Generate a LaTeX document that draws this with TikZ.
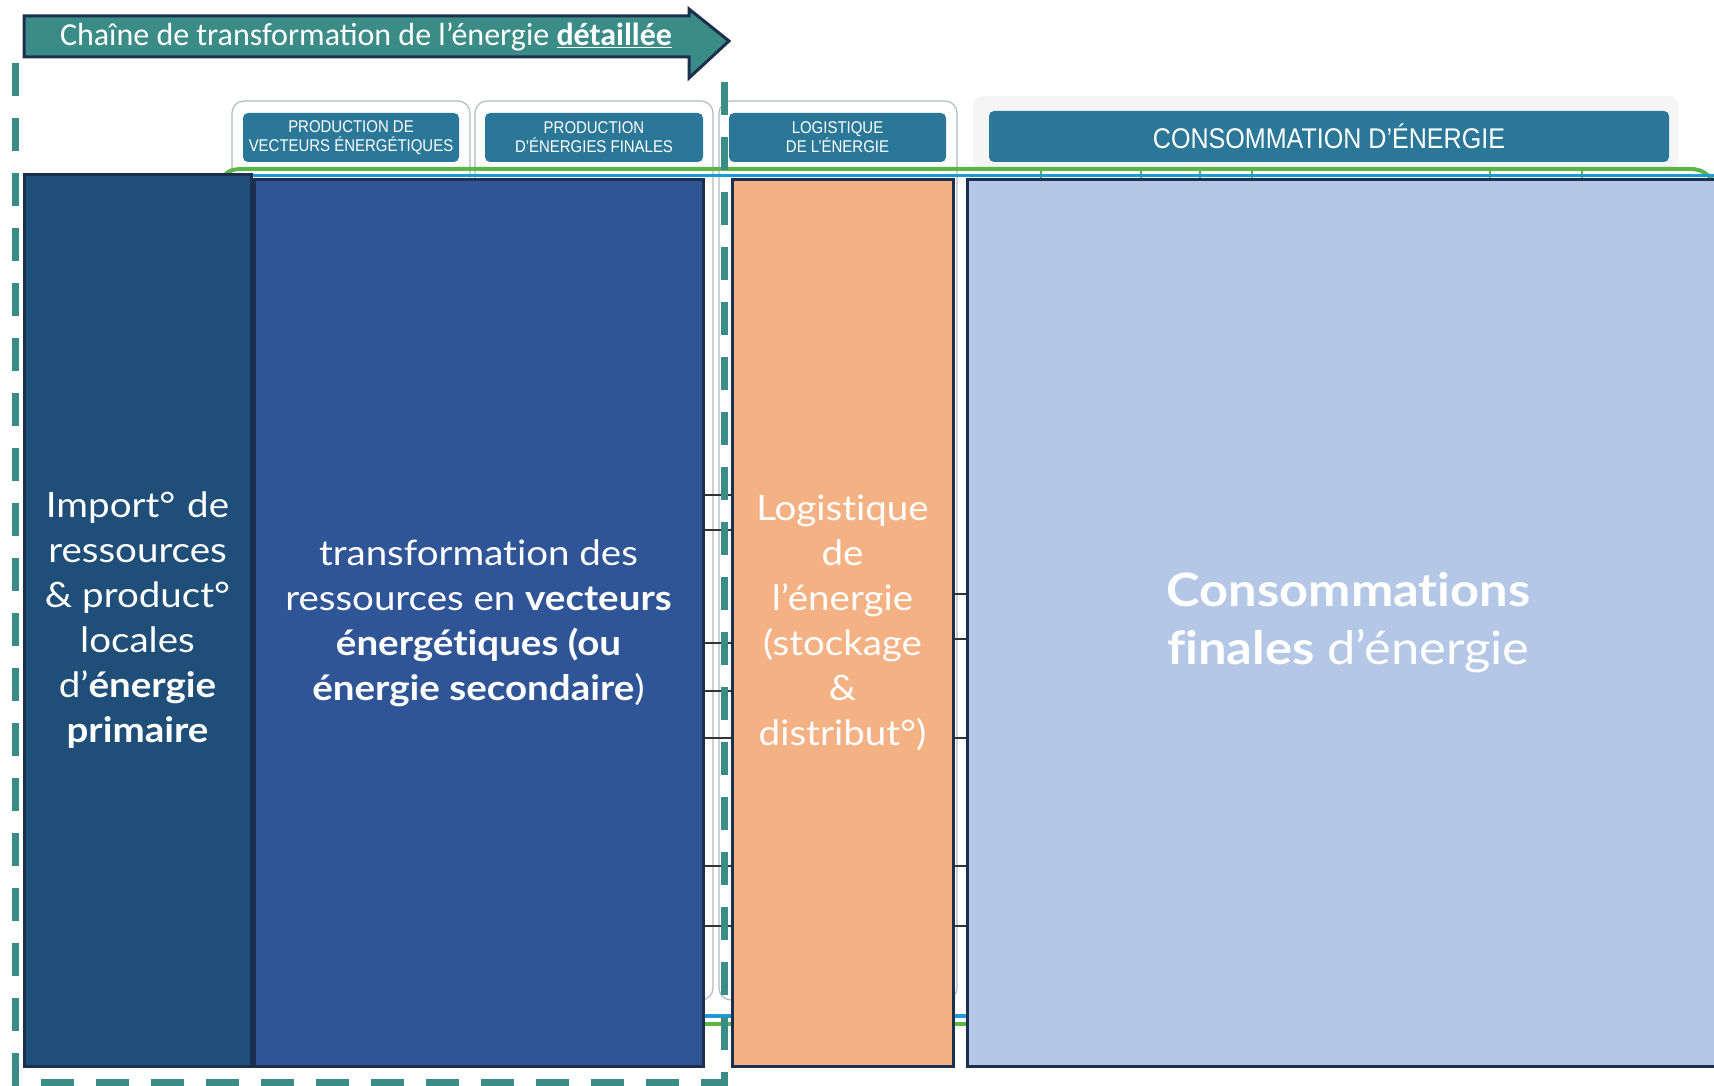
\documentclass[tikz,border=0pt]{standalone}
\usepackage{fontspec}
\setmainfont{Lato}[FakeStretch=1.1, Ligatures=NoCommon]
\newfontfamily\titlefont{Carlito}
\newfontfamily\headfont{Liberation Sans}[FakeStretch=0.88]
\usepackage{xcolor}
\usetikzlibrary{calc}

\definecolor{tealdash}{HTML}{3B8C87}
\definecolor{navyline}{HTML}{1C2F4E}
\definecolor{primcol}{HTML}{1F4E79}
\definecolor{vectcol}{HTML}{2F5597}
\definecolor{logicol}{HTML}{F4B183}
\definecolor{conscol}{HTML}{B4C7E7}
\definecolor{headcol}{HTML}{2A7797}
\definecolor{panelcol}{HTML}{AEBBC4}
\definecolor{greenline}{HTML}{5CB548}
\definecolor{blueline}{HTML}{1E9BD7}

\tikzset{ stage_box/.style = {rectangle, draw=navyline, line width=3pt, text=white, align=center, minimum height=886pt, inner sep=0pt, font=\fontsize{35}{45}\selectfont} }
\tikzset{ head_box/.style = {rectangle, rounded corners=5pt, fill=headcol, text=white, align=center, minimum height=49pt, inner sep=0pt, font=\headfont\fontsize{17}{19}\selectfont} }
\tikzset{ panel/.style = {draw=panelcol, line width=1.2pt, rounded corners=12pt} }
\tikzset{ gap_tick/.style = {draw=black!80, line width=1.6pt} }

\begin{document}
\begin{tikzpicture}[x=1pt, y=-1pt]
    \path[clip, use as bounding box] (0,0) rectangle (1714,1086);
    \fill[white] (0,0) rectangle (1714,1086);

    % panneaux de fond
    \draw[panel] (232,101) rectangle (470,1000);
    \draw[panel] (475,101) rectangle (713,1000);
    \draw[panel] (719,101) rectangle (957,1000);
    \fill[black!4, rounded corners=10pt] (973,96) rectangle (1678,170);
    \draw[greenline, line width=4pt] (222,184) .. controls (224,171) and (230,169) .. (245,169) -- (1690,169) .. controls (1702,169) and (1708,174) .. (1716,184);
    \foreach \gx in {1041,1141,1200,1252,1490,1582}
        \draw[greenline, line width=1.5pt] (\gx,169) -- (\gx,178);
    \draw[blueline, line width=3.5pt] (240,175.5) -- (1716,175.5);
    \draw[blueline, line width=3.5pt] (240,1016) -- (1716,1016);
    \draw[greenline, line width=4pt] (240,1024) -- (1716,1024);

    % en-tetes
    \node[head_box, minimum width=216pt] (h1) at (351,137.5) {PRODUCTION DE\\VECTEURS ÉNERGÉTIQUES};
    \node[head_box, minimum width=218pt] (h2) at (594,137.5) {PRODUCTION\\D’ÉNERGIES FINALES};
    \node[head_box, minimum width=217pt] (h3) at (837.5,137.5) {LOGISTIQUE\\DE L’ÉNERGIE};
    \node[head_box, minimum width=680pt, minimum height=51pt, font=\headfont\fontsize{28.5}{32}\selectfont] (h4) at (1329,136.5) {CONSOMMATION D’ÉNERGIE};

    % etapes
    \node[stage_box, fill=primcol, minimum width=227pt, minimum height=891pt] (b1) at (137.5,620.5)
        {Import°\hspace{2pt} de\\ressources\\\& product°\\locales\\d’\textbf{énergie}\\\textbf{primaire}};
    \node[stage_box, fill=vectcol, minimum width=449pt] (b2) at (478.5,623)
        {transformation des\\ressources en \textbf{vecteurs}\\\textbf{énergétiques (ou}\\\textbf{énergie secondaire})};
    \node[stage_box, fill=logicol, minimum width=221pt] (b3) at (842.5,623)
        {Logistique\\de\\l’énergie\\(stockage\\\&\\distribut°)};
    \node[stage_box, fill=conscol, minimum width=763pt, font=\fontsize{46}{58}\selectfont] (b4) at (1348.5,623)
        {\textbf{Consommations}\\\textbf{finales} d’énergie};

    \foreach \ty in {495,530,643,691,738,866,926}
        \draw[gap_tick] (b2.east |- 0,\ty) -- (b3.west |- 0,\ty);
    \foreach \ty in {594,639,738,866,926}
        \draw[gap_tick] (b3.east |- 0,\ty) -- (b4.west |- 0,\ty);

    % cadre pointille
    \draw[tealdash, line width=7pt, dash pattern=on 33pt off 22pt] (724,82) -- (724,1082) -- (15,1082) -- (15,44);

    % fleche du titre
    \draw[fill=tealdash, draw=navyline, line width=3pt, line join=miter]
        (24,16) -- (689,16) -- (689,9) -- (729,41) -- (689,78) -- (689,57) -- (24,57) -- cycle;
    \node[text=white, font=\titlefont\fontsize{32}{36}\selectfont] (titre) at (366,37)
        {Chaîne de transformation de l’énergie \underline{\textbf{détaillée}}};
\end{tikzpicture}
\end{document}
